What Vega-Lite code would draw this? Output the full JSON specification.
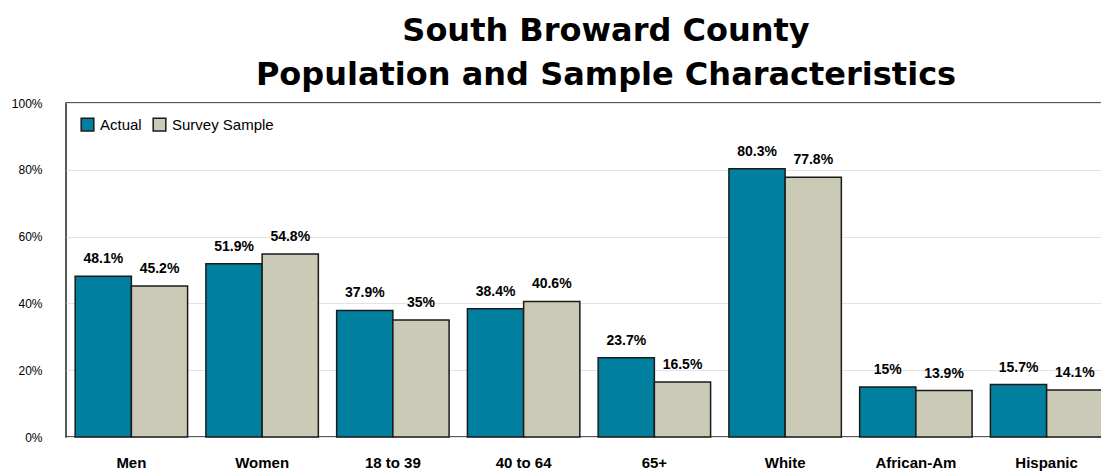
{
  "$schema": "https://vega.github.io/schema/vega-lite/v6.json",
  "width": 1046,
  "height": 334,
  "autosize": {"type": "none"},
  "padding": {"left": 66, "top": 103, "right": 0, "bottom": 35},
  "background": "white",
  "title": {
    "text": ["South Broward County", "Population and Sample Characteristics"],
    "font": "DejaVu Sans",
    "fontSize": 32,
    "fontWeight": "bold",
    "color": "#000",
    "lineHeight": 44,
    "anchor": "middle",
    "frame": "group",
    "dx": 17,
    "offset": 5
  },
  "config": {
    "font": "Liberation Sans",
    "view": {"stroke": "#222", "strokeWidth": 1.5}
  },
  "data": {
    "values": [
      {"cat": "Men", "series": "Actual", "v": 0.481},
      {"cat": "Men", "series": "Survey Sample", "v": 0.452},
      {"cat": "Women", "series": "Actual", "v": 0.519},
      {"cat": "Women", "series": "Survey Sample", "v": 0.548},
      {"cat": "18 to 39", "series": "Actual", "v": 0.379},
      {"cat": "18 to 39", "series": "Survey Sample", "v": 0.35},
      {"cat": "40 to 64", "series": "Actual", "v": 0.384},
      {"cat": "40 to 64", "series": "Survey Sample", "v": 0.406},
      {"cat": "65+", "series": "Actual", "v": 0.237},
      {"cat": "65+", "series": "Survey Sample", "v": 0.165},
      {"cat": "White", "series": "Actual", "v": 0.803},
      {"cat": "White", "series": "Survey Sample", "v": 0.778},
      {"cat": "African-Am", "series": "Actual", "v": 0.15},
      {"cat": "African-Am", "series": "Survey Sample", "v": 0.139},
      {"cat": "Hispanic", "series": "Actual", "v": 0.157},
      {"cat": "Hispanic", "series": "Survey Sample", "v": 0.141}
    ]
  },
  "encoding": {
    "x": {
      "field": "cat",
      "type": "nominal",
      "sort": null,
      "scale": {"paddingInner": 0.14, "paddingOuter": 0.07},
      "axis": {
        "title": null,
        "labelAngle": 0,
        "labelFontSize": 15,
        "labelFontWeight": "bold",
        "labelColor": "#000",
        "labelPadding": 18,
        "ticks": false,
        "domain": false
      }
    },
    "xOffset": {"field": "series", "type": "nominal", "scale": {"paddingInner": 0, "paddingOuter": 0}},
    "y": {
      "field": "v",
      "type": "quantitative",
      "scale": {"domain": [0, 1]},
      "axis": {
        "title": null,
        "format": ".0%",
        "values": [0, 0.2, 0.4, 0.6, 0.8, 1],
        "labelFontSize": 12,
        "labelColor": "#000",
        "labelPadding": 24,
        "ticks": false,
        "domain": false,
        "gridColor": "#e3e3e3",
        "gridWidth": 1
      }
    }
  },
  "layer": [
    {
      "mark": {"type": "bar", "stroke": "#1a1a1a", "strokeWidth": 1.5},
      "encoding": {
        "color": {
          "field": "series",
          "type": "nominal",
          "scale": {"domain": ["Actual", "Survey Sample"], "range": ["#00809e", "#cbcab6"]},
          "legend": {
            "title": null,
            "orient": "none",
            "direction": "horizontal",
            "legendX": 14,
            "legendY": 14,
            "symbolType": "square",
            "symbolSize": 160,
            "symbolStrokeColor": "#1a1a1a",
            "symbolStrokeWidth": 1.5,
            "labelFontSize": 15,
            "labelColor": "#000",
            "labelOffset": 5,
            "columnPadding": 8
          }
        }
      }
    },
    {
      "mark": {"type": "text", "dy": -17, "fontSize": 14, "fontWeight": "bold", "color": "#000"},
      "encoding": {
        "text": {"field": "v", "type": "quantitative", "format": ".1~%"}
      }
    }
  ]
}
